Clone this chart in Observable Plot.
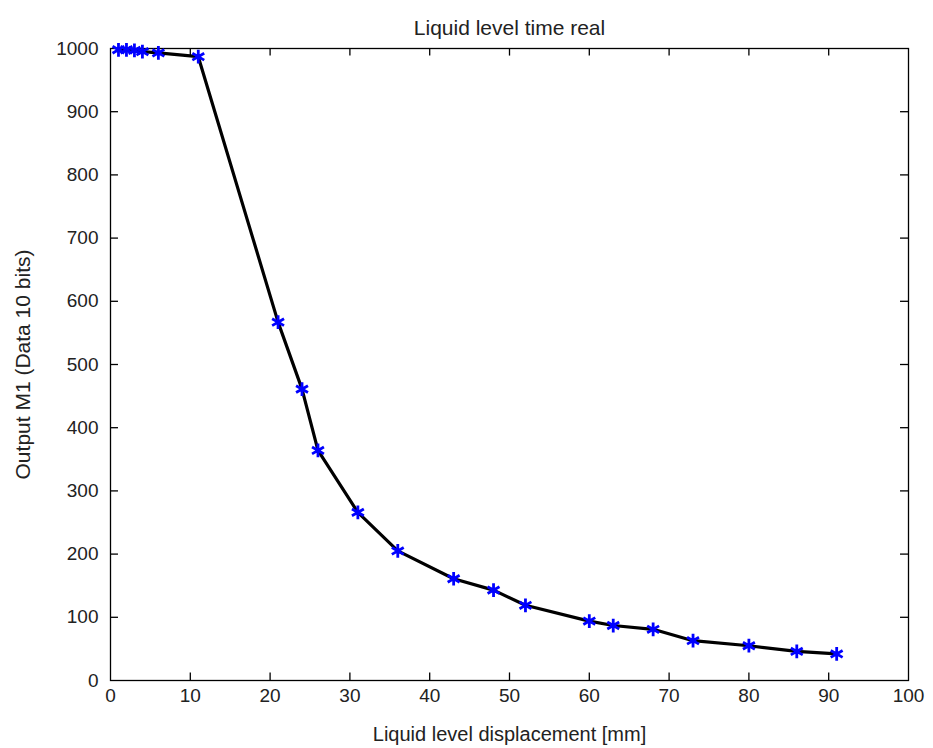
<!DOCTYPE html>
<html>
<head>
<meta charset="utf-8">
<script src="https://cdn.jsdelivr.net/npm/d3@7"></script>
<script src="https://cdn.jsdelivr.net/npm/@observablehq/plot@0.6"></script>
<style>
  html, body { margin: 0; padding: 0; background: #fff; }
  #chart { width: 933px; height: 748px; }
  svg text { font-family: "Liberation Sans", Arial, sans-serif; }
</style>
</head>
<body>
<div id="chart"></div>
<script>
const displacement = [1, 2, 3, 4, 6, 11, 21, 24, 26, 31, 36, 43, 48, 52, 60, 63, 68, 73, 80, 86, 91];
const output =       [998, 998, 997, 995, 993, 987, 567, 461, 364, 266, 205, 161, 143, 119, 94, 87, 81, 63, 55, 46, 42];
const xTicks = [0, 10, 20, 30, 40, 50, 60, 70, 80, 90, 100];
const yTicks = [0, 100, 200, 300, 400, 500, 600, 700, 800, 900, 1000];
const titleText = "Liquid level time real";
const xLabel = "Liquid level displacement [mm]";
const yLabel = "Output M1 (Data 10 bits)";

const data = displacement.map((x, i) => ({x, y: output[i]}));
const inner = (t) => t.slice(1, -1);

const chart = Plot.plot({
  width: 933,
  height: 748,
  marginLeft: 110,
  marginRight: 25,
  marginTop: 48,
  marginBottom: 68,
  style: {fontSize: "19px", fontFamily: "Liberation Sans, Arial, sans-serif", color: "#222", background: "#fff"},
  x: {domain: [0, 100]},
  y: {domain: [0, 1000]},
  marks: [
    Plot.axisX({ticks: xTicks, tickSize: 0, tickPadding: 8, label: null, fontSize: 19, tickFormat: d => String(d)}),
    Plot.axisY({ticks: yTicks, tickSize: 0, tickPadding: 12, label: null, fontSize: 19, tickFormat: d => String(d)}),
    Plot.ruleX(inner(xTicks), {x: d => d, y1: 0, y2: 12, stroke: "#000", strokeWidth: 1.3}),
    Plot.ruleX(inner(xTicks), {x: d => d, y1: 988, y2: 1000, stroke: "#000", strokeWidth: 1.3}),
    Plot.ruleY(inner(yTicks), {y: d => d, x1: 0, x2: 1, stroke: "#000", strokeWidth: 1.3}),
    Plot.ruleY(inner(yTicks), {y: d => d, x1: 99, x2: 100, stroke: "#000", strokeWidth: 1.3}),
    Plot.frame({stroke: "#000", strokeWidth: 1.3}),
    Plot.line(data, {x: "x", y: "y", stroke: "#000", strokeWidth: 3.2}),
    Plot.dot(data, {x: "x", y: "y", symbol: "asterisk", r: 6.5, stroke: "#0000ff", strokeWidth: 2.8}),
    Plot.text([titleText], {frameAnchor: "top", dy: -28, text: d => d, fontSize: 21, fill: "#222"}),
    Plot.text([xLabel], {frameAnchor: "bottom", dy: 60, text: d => d, fontSize: 20, fill: "#222"}),
    Plot.text([yLabel], {frameAnchor: "left", dx: -87, rotate: -90, textAnchor: "middle", text: d => d, fontSize: 21, fill: "#222"})
  ]
});
document.getElementById("chart").appendChild(chart);
</script>
</body>
</html>
